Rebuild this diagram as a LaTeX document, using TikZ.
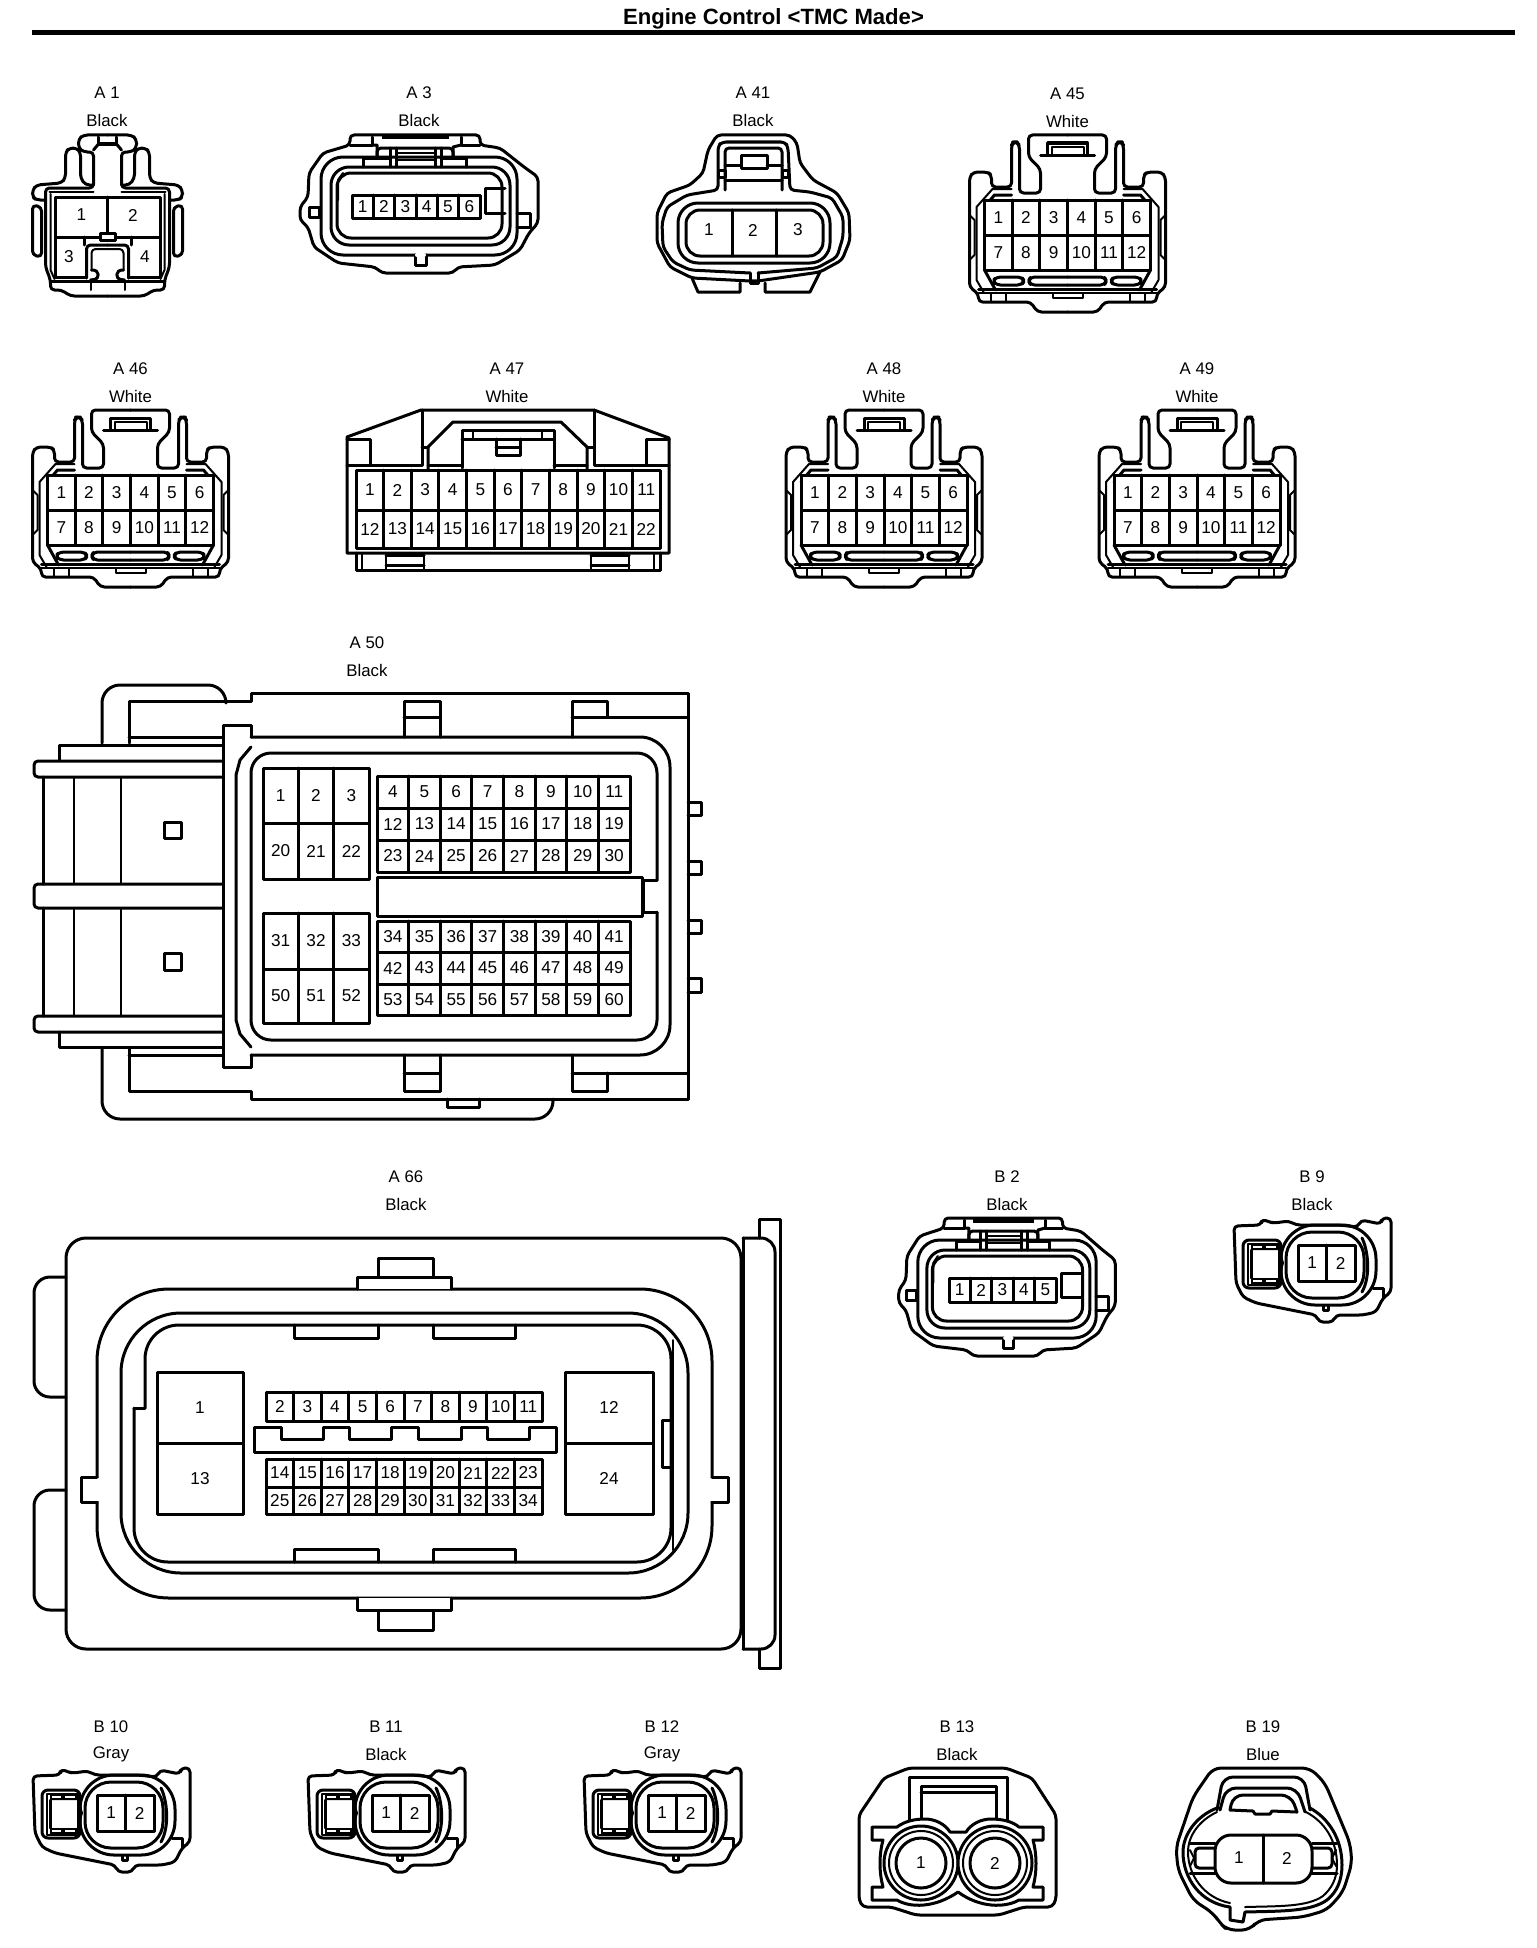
\documentclass[tikz,border=0pt]{standalone}
\usepackage{fontspec}
\setmainfont{Liberation Sans}
\newcount\nid
\tikzset{
 ln/.style={line width=1.5pt,line join=round,line cap=round},
 tn/.style={line width=1pt,line join=round,line cap=round},
 rc/.style={rounded corners=2pt},
 pinlabel/.style={inner sep=0pt,font=\fontsize{8.6}{10}\selectfont},
 head/.style={inner sep=0pt,font=\fontsize{8.4}{10}\selectfont},
 titletext/.style={inner sep=0pt,font=\bfseries\fontsize{11.05}{13}\selectfont},
}
\newcommand{\lbl}[3]{\global\advance\nid by 1 \node[pinlabel] (t\the\nid) at (#1,#2) {#3};}
\newcommand{\hd}[4]{\global\advance\nid by 1 \node[head] (h\the\nid) at (#1,#2) {#3};
 \global\advance\nid by 1 \node[head] (h\the\nid) at (#1,#2+27.5) {#4};}
% row of pins: x0 y0 x1 y1 n first
\newcommand{\pinrow}[6]{%
 \draw[ln,fill=white] (#1,#2) rectangle (#3,#4);
 \foreach \i in {1,...,#5}{%
  \pgfmathsetmacro\xa{#1+(\i-1)*(#3-#1)/#5}%
  \pgfmathsetmacro\xm{#1+(\i-0.5)*(#3-#1)/#5}%
  \pgfmathsetmacro\ym{(#2+#4)/2}%
  \ifnum\i>1 \draw[ln] (\xa,#2) -- (\xa,#4);\fi
  \lbl{\xm}{\ym}{\the\numexpr#6+\i-1\relax}
 }}
% half of the 12 pin connector
\newcommand{\halftw}{%
 \draw[ln,rc] (0,0) -- (-39,0) -- (-39,22) -- (-27,34) -- (-27,58) -- (-48,58) -- (-48,10) -- (-51,7) -- (-54,7) -- (-56,10) -- (-56,52) -- (-76,52) -- (-76,40) -- (-80,37) -- (-94,37) -- (-98,42) -- (-98,152) -- (-89,159) -- (-89,167) -- (-37,167) -- (-30,177) -- (0,177);
 \draw[ln] (-27,20) -- (0,20);
 \draw[ln] (-20,20) -- (-20,8) -- (0,8);
 \draw[tn] (-16,20) -- (-16,12) -- (0,12);
 \draw[tn] (-56,54) -- (-75,54) -- (-91,72) -- (-91,145) -- (-84,157);
 \draw[ln] (-56,60) -- (-73,60) -- (-83,72);
 \draw[ln] (-83,135) -- (-72,155);
 \draw[tn] (-98,80) -- (-93,85) -- (-93,120) -- (-98,125);
 \draw[ln] (-89,154) -- (0,154);
 \draw[tn] (-89,158) -- (0,158);
 \draw[tn] (-77,158) -- (-77,167) (-62,158) -- (-62,167);
 \draw[tn] (-15,158) -- (-15,163) -- (0,163);
 \draw[ln,rc] (-71,142) -- (-46,142) -- (-43,146) -- (-46,150) -- (-71,150) -- (-75,146) -- cycle;
 \draw[ln,rc] (0,142) -- (-37,142) -- (-39,146) -- (-37,150) -- (0,150);
}
\newcommand{\twelve}[4]{%
 \hd{#1}{#2-41.5}{#3}{#4}
 \begin{scope}[shift={(#1,#2)}]
 \halftw
 \begin{scope}[xscale=-1]\halftw\end{scope}
 \pinrow{-83}{65}{83}{100}{6}{1}
 \pinrow{-83}{100}{83}{135}{6}{7}
 \end{scope}}
% shell of A 3 and B 2 in A 3 coordinates
\newcommand{\shellA}{%
 \draw[ln,rc] (350,145) -- (350,135) -- (480,135) -- (480,145) -- (500,148) -- (524,167) -- (538,177) -- (538,223) -- (529,233) -- (520,250) -- (495,265) -- (458,267) -- (453,273) -- (382,273) -- (375,267) -- (338,263) -- (314,247) -- (308,227) -- (300,220) -- (300,207) -- (308,197) -- (309,173) -- (323,153) -- cycle;
 \draw[ln] (350,145) -- (372,145) -- (372,137) (480,145) -- (461,145) -- (461,137);
 \draw[line width=2.5pt] (382,137) -- (449,137);
 \draw[ln] (372,145) -- (377,145) -- (377,157) (461,145) -- (453,147) -- (453,157);
 \draw[ln,rc] (377,157) -- (377,148) -- (453,148) -- (453,157);
 \draw[ln] (390,148) -- (390,167) (441,148) -- (441,167) (396,148) -- (396,167) (435,148) -- (435,167);
 \draw[tn] (396,153) -- (435,153) (396,160) -- (435,160);
 \draw[ln] (363,167) -- (363,158) -- (390,158) (441,158) -- (466,158) -- (466,167);
 \draw[ln,rounded corners=11pt] (321,157) rectangle (517,255);
 \draw[ln,rounded corners=9pt] (331,167) rectangle (510,245);
 \draw[ln,rounded corners=7pt] (337,173) rectangle (502,238);
 \draw[ln,fill=white] (309,207) rectangle (319,217);
 \draw[ln] (517,213) -- (530,213) -- (530,227) -- (517,227);
 \draw[tn] (343,173) -- (338,180) -- (338,200);
 \draw[ln] (415,255) -- (415,265) -- (426,265) -- (426,255);
 \draw[ln,white,line width=2pt] (417,255) -- (424,255);
}
% the small two pin connector
\newcommand{\bshape}[4]{%
 \hd{#1+78}{#2-41}{#3}{#4}
 \begin{scope}[shift={(#1,#2)}]
 \draw[ln,rc] (0,8) -- (27,7) -- (28,1) -- (35,4) -- (40,5) -- (55,3) -- (62,7) -- (79,7) -- (105,7) -- (124,9) -- (127,2) -- (147,6) -- (148,0) -- (157,0) -- (157,74) -- (149,80) -- (142,94) -- (129,97) -- (102,97) -- (99,104) -- (85,104) -- (82,97) -- (22,85) -- (9,79) -- (2,65) -- cycle;
 \draw[ln,rounded corners=17pt] (47,7) rectangle (142,87);
 \draw[ln,rounded corners=13pt] (52,14) rectangle (130,80);
 \draw[ln] (128,20) .. controls (134,32) and (137,58) .. (128,74);
 \draw[ln,rounded corners=3pt,fill=white] (9,22) rectangle (47,70);
 \draw[tn] (14,25.5) -- (45,25.5) -- (45,66.5) -- (14,66.5) -- cycle;
 \fill (17,26) rectangle (44,32) (17,60) rectangle (44,66);
 \draw[white,line width=.6pt] (19,29) -- (28,29) (32,29) -- (42,29) (19,63) -- (28,63) (32,63) -- (42,63);
 \draw[ln] (17,32) -- (17,60);
 \draw[tn] (46,35) -- (49,45) -- (46,55);
 \draw[ln] (139,70) -- (149,70) -- (149,80);
 \draw[ln] (89,88) -- (89,92) -- (94,92) -- (94,88);
 \pinrow{64}{27}{121}{63}{2}{1}
 \end{scope}}
\begin{document}
\begin{tikzpicture}[x=0.5pt,y=-0.5pt]
\useasboundingbox (0,0) rectangle (1536,1948);
\fill[white] (0,0) rectangle (1536,1948);
% title
\node[titletext] (title) at (773.5,19) {Engine Control <TMC Made>};
\draw[line width=2.5pt] (32,32.5) -- (1515,32.5);

% ---- A 1
\hd{107}{93}{A 1}{Black}
\begin{scope}[shift={(107.5,0)}]
\foreach \s in {1,-1}{
\begin{scope}[xscale=\s]
 \draw[ln,rc] (0,135) -- (-24,135) -- (-29,139) -- (-29,148) -- (-24,152) -- (-14,152) -- (-14,188) -- (-62,188) -- (-62,267) -- (-57,280) -- (-57,290) -- (-46,290) -- (-37,296) -- (0,296);
 \draw[ln] (-9,137) -- (-9,144) -- (0,144);
 \draw[ln] (-9,144) -- (-14,150);
 \draw[ln,rc] (-14,185) -- (-22,185) -- (-27,178) -- (-27,152) -- (-31,148) -- (-38,148) -- (-42,152) -- (-42,178) -- (-46,183) -- (-71,185) -- (-75,190) -- (-75,197) -- (-71,200) -- (-62,200);
 \draw[ln,rc] (-66,207) -- (-75,205) -- (-75,255) -- (-66,257) -- cycle;
 \draw[tn] (-58,192) -- (-14,192);
 \draw[tn] (-57,194) -- (-57,270) -- (-53,279);
 \draw[ln] (-57,281) -- (0,281);
 \draw[tn] (-17,281) -- (-17,290);
 \draw[ln,rc] (-21,278) -- (-21,245) -- (0,245);
 \draw[tn,rc] (-16,270) -- (-16,249) -- (0,249);
 \draw[ln,rc] (-16,270) -- (-10,270) -- (-9,279) -- (-17,280);
 \draw[ln] (-53,277) -- (-21,277);
\end{scope}}
\end{scope}
\draw[ln,fill=white] (55,197) rectangle (160,237);
\draw[ln] (107,197) -- (107,237);
\draw[ln] (55,237) -- (55,277) (160,237) -- (160,277);
\draw[ln] (84,237) -- (84,245) (131,237) -- (131,245);
\draw[ln,fill=white] (100,233) rectangle (115,240);
\lbl{81.5}{215}{1}\lbl{133}{215}{2}\lbl{69}{257}{3}\lbl{145}{257}{4}

% ---- A 3
\hd{419}{93}{A 3}{Black}
\shellA
\pinrow{352}{195}{480}{218}{6}{1}
\draw[ln] (505,188) -- (485,188) -- (485,213) -- (505,213);

% ---- A 41
\hd{753}{93}{A 41}{Black}
\draw[ln,rc] (717,135) -- (790,135) -- (797,143) -- (800,163) -- (813,180) -- (837,193) -- (849,213) -- (850,240) -- (842,260) -- (820,272) -- (758,281) -- (750,281) -- (692,278) -- (670,267) -- (657,243) -- (657,213) -- (667,193) -- (690,185) -- (703,173) -- (708,150) -- cycle;
\draw[ln] (692,278) -- (698,292) -- (740,292) -- (740,283);
\draw[ln] (820,272) -- (810,292) -- (765,292) -- (765,283);
\draw[ln] (750,273) -- (750,283) -- (758,283) -- (758,273);
\draw[ln,rc] (750,273) -- (690,270) -- (673,262) -- (663,247) -- (662,223) -- (667,207) -- (687,195) -- (718,190) -- (718,146) -- (722,142) -- (785,142) -- (788,147) -- (790,190) -- (810,192) -- (832,198) -- (843,217) -- (843,237) -- (837,257) -- (817,268) -- (758,273);
\draw[ln,rounded corners=10pt] (678,203) rectangle (830,263);
\draw[ln,rounded corners=7pt] (686,210) rectangle (823,256);
\draw[ln] (732,210) -- (732,256) (776,210) -- (776,256);
\draw[ln,rc] (725,190) -- (725,148) -- (782,148) -- (782,190);
\draw[ln] (725,180) -- (782,180);
\draw[ln] (725,165) -- (741,165) (767,165) -- (782,165);
\draw[ln] (741,155) rectangle (767,168);
\draw[ln] (718,170) rectangle (725,177) (782,170) rectangle (788,177);
\lbl{709}{230}{1}\lbl{753}{230}{2}\lbl{798}{230}{3}

% ---- A 45 A 46 A 48 A 49
\twelve{1067.5}{135}{A 45}{White}
\twelve{130.5}{410}{A 46}{White}
\twelve{884}{410}{A 48}{White}
\twelve{1197}{410}{A 49}{White}

% ---- A 47
\hd{507}{369}{A 47}{White}
\draw[ln] (347,553) -- (347,437) -- (421,410) -- (594,410) -- (669,438) -- (669,553) -- cycle;
\draw[ln] (347,439) -- (370,439) -- (370,465);
\draw[ln] (669,439) -- (646,439) -- (646,465);
\draw[ln] (347,465) -- (422,465) -- (422,410);
\draw[ln] (669,465) -- (594,465) -- (594,410);
\draw[ln] (428,470) -- (428,447) -- (453,422) -- (561,422) -- (587,447) -- (587,470);
\draw[ln] (428,465) -- (462,465) (554,465) -- (587,465);
\draw[ln] (462,468) -- (462,430) -- (554,430) -- (554,468);
\draw[ln] (462,439) -- (554,439);
\draw[tn] (473,430) -- (473,439) (542,430) -- (542,439);
\draw[ln] (496,439) -- (496,455) -- (520,455) -- (520,439);
\draw[ln] (496,447) -- (520,447);
\draw[ln] (422,447) -- (428,447) (587,447) -- (594,447);
\draw[ln] (356,553) -- (356,570) -- (660,570) -- (660,553);
\draw[tn] (362,553) -- (362,570) (654,553) -- (654,570);
\draw[ln] (386,555) -- (424,555) (386,565) -- (424,565) (591,555) -- (629,555) (591,565) -- (629,565);
\draw[tn] (386,555) -- (386,570) (424,555) -- (424,570) (591,555) -- (591,570) (629,555) -- (629,570);
\pinrow{356}{470}{660}{510}{11}{1}
\pinrow{356}{510}{660}{548}{11}{12}

% ---- A 50
\hd{367}{643}{A 50}{Black}
\draw[ln,rounded corners=9pt] (226,701) -- (226,685) -- (102,685) -- (102,743);
\draw[ln] (226,701) -- (251,701) -- (251,693) -- (688,693) -- (688,1099) -- (251,1099) -- (251,1091) -- (129,1091) -- (129,1048);
\draw[ln,rounded corners=9pt] (102,1048) -- (102,1119) -- (553,1119) -- (553,1099);
\draw[ln] (226,701) -- (129,701) -- (129,743);
\draw[ln] (129,737) -- (222,737) (129,1055) -- (222,1055);
\draw[ln] (222,745) -- (59,745) -- (59,760);
\draw[ln] (222,1047) -- (59,1047) -- (59,1032);
\draw[ln,rc] (222,761) -- (34,761) -- (34,777) -- (222,777);
\draw[ln,rc] (222,884) -- (34,884) -- (34,908) -- (222,908);
\draw[ln,rc] (222,1016) -- (34,1016) -- (34,1032) -- (222,1032);
\draw[ln] (43,777) -- (43,884) (43,908) -- (43,1016);
\draw[tn] (74,777) -- (74,884) (74,908) -- (74,1016) (121,777) -- (121,884) (121,908) -- (121,1016);
\draw[ln] (164,822) rectangle (181,838);
\draw[ln] (164,953) rectangle (181,970);
\draw[ln] (251,737) -- (251,725) -- (223,725) -- (223,1067) -- (251,1067) -- (251,1055);
\draw[ln,rounded corners=15pt] (251,737) -- (670,737) -- (670,1055) -- (251,1055);
\draw[ln] (251,747) -- (240,760) -- (236,775) -- (236,1020) -- (240,1034) -- (251,1047);
\draw[ln,rounded corners=10pt] (657,880) -- (657,753) -- (251,753) -- (251,1040) -- (657,1040) -- (657,912);
\draw[ln] (657,880) -- (643,880) -- (643,912) -- (657,912);
\draw[ln] (404,737) -- (404,701) -- (440,701) -- (440,737) (404,717) -- (440,717);
\draw[ln] (572,737) -- (572,701) -- (607,701) -- (607,717) (572,717) -- (688,717);
\draw[ln] (404,1055) -- (404,1091) -- (440,1091) -- (440,1055) (404,1073) -- (440,1073);
\draw[ln] (572,1055) -- (572,1091) -- (607,1091) -- (607,1073) (572,1073) -- (688,1073);
\draw[ln] (447,1099) -- (447,1107) -- (479,1107) -- (479,1099);
\draw[ln] (688,802) -- (701,802) -- (701,815) -- (688,815);
\draw[ln] (688,861) -- (701,861) -- (701,874) -- (688,874);
\draw[ln] (688,920) -- (701,920) -- (701,933) -- (688,933);
\draw[ln] (688,978) -- (701,978) -- (701,992) -- (688,992);
\pinrow{263}{768}{369}{823}{3}{1}
\pinrow{263}{823}{369}{879}{3}{20}
\pinrow{263}{913}{369}{969}{3}{31}
\pinrow{263}{969}{369}{1023}{3}{50}
\pinrow{377}{776}{630}{808}{8}{4}
\pinrow{377}{808}{630}{840}{8}{12}
\pinrow{377}{840}{630}{872}{8}{23}
\pinrow{377}{921}{630}{952}{8}{34}
\pinrow{377}{952}{630}{984}{8}{42}
\pinrow{377}{984}{630}{1015}{8}{53}
\draw[ln] (377,877) rectangle (642,916);

% ---- A 66
\hd{406}{1177}{A 66}{Black}
\draw[ln,rounded corners=10pt] (66,1238) rectangle (741,1649);
\draw[ln,rounded corners=8pt] (66,1277) -- (34,1277) -- (34,1397) -- (66,1397);
\draw[ln,rounded corners=8pt] (66,1490) -- (34,1490) -- (34,1610) -- (66,1610);
\draw[ln] (759,1238) -- (759,1219) -- (780,1219) -- (780,1668) -- (759,1668) -- (759,1649);
\draw[ln,rounded corners=7pt] (743,1238) -- (775,1238) -- (775,1649) -- (743,1649);
\draw[ln] (743,1238) -- (743,1649);
\draw[ln,rounded corners=36pt] (97,1289) rectangle (712,1598);
\fill[white] (95,1478) rectangle (99,1501) (710,1478) rectangle (714,1501);
\draw[ln] (97,1477) -- (81,1477) -- (81,1502) -- (97,1502);
\draw[ln] (712,1477) -- (728,1477) -- (728,1502) -- (712,1502);
\draw[ln] (378,1277) -- (378,1258) -- (433,1258) -- (433,1277);
\draw[ln,fill=white] (357,1289) -- (357,1277) -- (451,1277) -- (451,1289);
\draw[ln] (378,1610) -- (378,1630) -- (433,1630) -- (433,1610);
\draw[ln,fill=white] (357,1598) -- (357,1610) -- (451,1610) -- (451,1598);
\draw[ln,rounded corners=30pt] (121,1313) rectangle (688,1573);
\draw[ln,rounded corners=17pt] (145,1408) -- (145,1325) -- (671,1325) -- (671,1562) -- (134,1562) -- (134,1408);
\draw[ln] (134,1408) -- (145,1408);
\draw[tn] (673,1340) -- (673,1550);
\draw[ln] (294,1325) -- (294,1338) -- (378,1338) -- (378,1325);
\draw[ln] (433,1325) -- (433,1338) -- (515,1338) -- (515,1325);
\draw[ln] (294,1562) -- (294,1549) -- (378,1549) -- (378,1562);
\draw[ln] (433,1562) -- (433,1549) -- (515,1549) -- (515,1562);
\draw[ln] (671,1420) -- (662,1420) -- (662,1467) -- (671,1467);
\pinrow{157}{1372}{243}{1443}{1}{1}
\pinrow{157}{1443}{243}{1514}{1}{13}
\pinrow{565}{1372}{653}{1443}{1}{12}
\pinrow{565}{1443}{653}{1514}{1}{24}
\pinrow{266}{1392}{542}{1421}{10}{2}
\pinrow{266}{1459}{542}{1487}{10}{14}
\pinrow{266}{1487}{542}{1514}{10}{25}
\draw[ln] (254,1452) -- (254,1427) -- (281,1427) -- (281,1439) -- (323,1439) -- (323,1427) -- (349,1427) -- (349,1439) -- (391,1439) -- (391,1427) -- (418,1427) -- (418,1439) -- (461,1439) -- (461,1427) -- (487,1427) -- (487,1439) -- (529,1439) -- (529,1427) -- (556,1427) -- (556,1452) -- cycle;

% ---- B 2
\hd{1007}{1177}{B 2}{Black}
\begin{scope}[shift={(625.7,1083)},xscale=.91]
\shellA
\end{scope}
\pinrow{949}{1278}{1056}{1302}{5}{1}
\draw[ln] (1081,1273) -- (1061,1273) -- (1061,1297) -- (1081,1297);

% ---- B 9 B 10 B 11 B 12
\bshape{1234}{1218}{B 9}{Black}
\bshape{33}{1768}{B 10}{Gray}
\bshape{308}{1768}{B 11}{Black}
\bshape{584}{1768}{B 12}{Gray}

% ---- B 13
\hd{957}{1727}{B 13}{Black}
\draw[ln,rc] (859,1815) -- (884,1778) -- (909,1768) -- (1006,1768) -- (1032,1778) -- (1056,1815) -- (1056,1900) -- (1052,1907) -- (1024,1907) -- (999,1915) -- (916,1915) -- (891,1907) -- (863,1907) -- (859,1900) -- cycle;
\draw[ln] (909,1820) -- (909,1777) -- (1007,1777) -- (1007,1820);
\draw[ln] (921,1818) -- (921,1786) -- (996,1786) -- (996,1818);
\draw[ln] (921,1792) -- (996,1792);
\draw[ln] (897,1827) .. controls (905,1821) and (915,1819) .. (925,1819) .. controls (935,1819) and (945,1824) .. (950,1832) -- (966,1832) .. controls (971,1824) and (981,1819) .. (991,1819) .. controls (1001,1819) and (1012,1821) .. (1019,1827) -- (1043,1827) -- (1043,1840) -- (1033,1840) .. controls (1037,1855) and (1037,1872) .. (1033,1887) -- (1043,1887) -- (1043,1900) -- (1019,1900) .. controls (1005,1908) and (980,1908) .. (958,1892) .. controls (935,1908) and (910,1908) .. (897,1900) -- (872,1900) -- (872,1887) -- (883,1887) .. controls (879,1872) and (879,1855) .. (883,1840) -- (872,1840) -- (872,1827) -- cycle;
\foreach \cx in {921,995}{
 \draw[ln,fill=white] (\cx,1863) circle[radius=37];
 \draw[tn] (\cx,1863) circle[radius=32];
 \draw[ln] (\cx,1863) circle[radius=25];
}
\lbl{921}{1863}{1}\lbl{995}{1863}{2}

% ---- B 19
\hd{1263}{1727}{B 19}{Blue}
\draw[ln,rounded corners=4pt] (1213,1768) -- (1310,1768) -- (1325,1783) -- (1350,1843) -- (1352,1863) -- (1343,1892) -- (1327,1910) -- (1303,1917) -- (1258,1920) -- (1250,1930) -- (1227,1930) -- (1220,1923) -- (1213,1913) -- (1193,1900) -- (1178,1870) -- (1176,1847) -- (1193,1797) -- cycle;
\draw[ln] (1217,1808) .. controls (1196,1816) and (1183,1835) .. (1183,1852) .. controls (1183,1878) and (1200,1903) .. (1230,1907);
\draw[tn] (1217,1812) .. controls (1200,1820) and (1188,1835) .. (1188,1852) .. controls (1188,1875) and (1204,1898) .. (1230,1903);
\draw[ln] (1245,1912) .. controls (1280,1911) and (1310,1912) .. (1327,1900) .. controls (1337,1892) and (1342,1880) .. (1342,1865) .. controls (1342,1838) and (1328,1818) .. (1310,1808);
\draw[tn] (1245,1907) .. controls (1280,1906) and (1307,1907) .. (1323,1896) .. controls (1332,1888) and (1337,1878) .. (1337,1865) .. controls (1337,1841) and (1325,1822) .. (1306,1812);
\draw[ln] (1230,1907) -- (1230,1920) -- (1243,1922) -- (1245,1912);
\draw[ln,rounded corners=5pt] (1217,1810) -- (1223,1777) -- (1304,1777) -- (1310,1810);
\draw[ln,rounded corners=5pt] (1220,1810) -- (1226,1788) -- (1297,1788) -- (1305,1812);
\draw[ln,rounded corners=5pt] (1230,1810) -- (1233,1795) -- (1291,1795) -- (1297,1812);
\draw[ln] (1230,1810) -- (1253,1811) -- (1255,1814) -- (1270,1814) -- (1272,1811) -- (1297,1812);
\draw[ln] (1190,1843) -- (1215,1843) (1190,1873) -- (1215,1873);
\draw[ln,rc] (1215,1848) -- (1195,1848) -- (1195,1868) -- (1215,1868);
\draw[tn] (1190,1850) -- (1194,1858) -- (1190,1866);
\draw[ln] (1312,1843) -- (1337,1843) (1312,1873) -- (1337,1873);
\draw[ln,rc] (1312,1848) -- (1332,1848) -- (1332,1868) -- (1312,1868);
\draw[tn] (1336,1850) -- (1332,1858) -- (1336,1866);
\draw[ln,rounded corners=8pt,fill=white] (1215,1835) -- (1312,1835) -- (1312,1883) -- (1215,1883) -- cycle;
\draw[ln] (1263,1835) -- (1263,1883);
\lbl{1239}{1858}{1}\lbl{1287}{1858}{2}
\end{tikzpicture}
\end{document}
